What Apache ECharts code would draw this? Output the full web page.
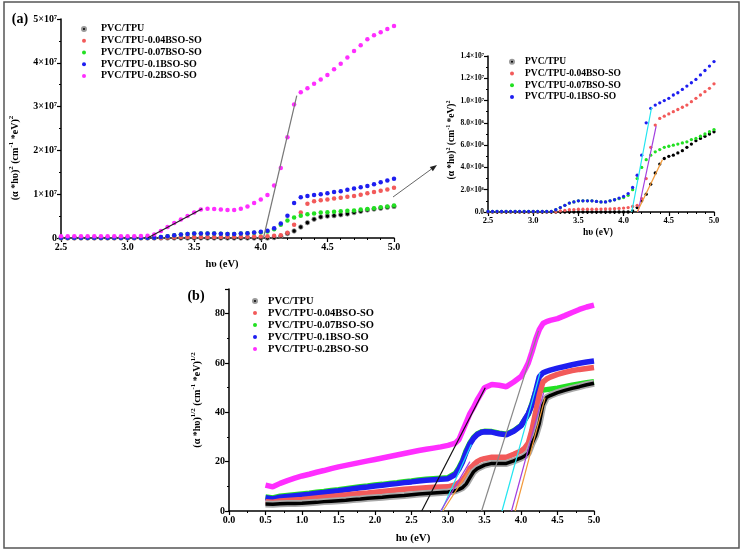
<!DOCTYPE html>
<html><head><meta charset="utf-8">
<script src="https://cdn.jsdelivr.net/npm/echarts@6/dist/echarts.min.js"></script>
<style>html,body{margin:0;padding:0;background:#fff}#c{width:743px;height:554px}</style>
</head><body><div id="c"></div>
<script>
// ---------- DATA ----------
const seriesNames = ['PVC/TPU','PVC/TPU-0.04BSO-SO','PVC/TPU-0.07BSO-SO','PVC/TPU-0.1BSO-SO','PVC/TPU-0.2BSO-SO'];
const seriesColors = ['#000000','#f25a5a','#22e022','#1e1ef0','#ff2eff'];

// panel (a): (alpha*hv)^2 in units of 1e7
const aX = [2.5,2.55,2.6,2.65,2.7,2.75,2.8,2.85,2.9,2.95,3.0,3.05,3.1,3.15,3.2,3.25,3.3,3.35,3.4,3.45,3.5,3.55,3.6,3.65,3.7,3.75,3.8,3.85,3.9,3.95,4.0,4.05,4.1,4.15,4.2,4.25,4.3,4.35,4.4,4.45,4.5,4.55,4.6,4.65,4.7,4.75,4.8,4.85,4.9,4.95,5.0];
const aBlack = [0,0,0,0,0,0,0,0,0,0,0,0,0,0,0,0,0,0,0,0,0,0,0,0,0,0,0,0,0,0,0,0,0.01,0.04,0.1,0.16,0.25,0.35,0.43,0.48,0.5,0.51,0.53,0.55,0.58,0.61,0.64,0.66,0.68,0.7,0.72];
const aRed = [0.002,0.002,0.002,0.002,0.002,0.002,0.002,0.002,0.002,0.002,0.002,0.002,0.002,0.002,0.002,0.002,0.01,0.015,0.02,0.022,0.025,0.025,0.025,0.025,0.025,0.026,0.027,0.028,0.03,0.032,0.035,0.04,0.05,0.06,0.12,0.3,0.58,0.78,0.84,0.86,0.88,0.9,0.92,0.94,0.96,0.99,1.02,1.05,1.08,1.11,1.15];
const aGreen = [0.005,0.005,0.005,0.005,0.005,0.005,0.005,0.005,0.005,0.005,0.005,0.005,0.005,0.005,0.005,0.02,0.04,0.06,0.08,0.09,0.1,0.1,0.1,0.1,0.095,0.09,0.09,0.1,0.11,0.12,0.13,0.15,0.2,0.3,0.4,0.47,0.51,0.54,0.56,0.58,0.59,0.6,0.61,0.62,0.63,0.65,0.66,0.68,0.7,0.72,0.74];
const aBlue = [0.005,0.005,0.005,0.005,0.005,0.005,0.005,0.005,0.005,0.005,0.005,0.005,0.005,0.005,0.005,0.02,0.04,0.06,0.08,0.09,0.1,0.1,0.1,0.1,0.095,0.09,0.09,0.1,0.11,0.125,0.14,0.165,0.22,0.33,0.51,0.8,0.93,0.96,0.98,1.0,1.02,1.05,1.07,1.1,1.13,1.16,1.19,1.23,1.27,1.31,1.35];
const aPink = [0.04,0.04,0.04,0.04,0.04,0.04,0.04,0.04,0.04,0.04,0.04,0.04,0.045,0.05,0.08,0.16,0.25,0.34,0.42,0.5,0.58,0.65,0.67,0.66,0.65,0.64,0.64,0.67,0.72,0.8,0.88,0.98,1.2,1.6,2.3,3.05,3.33,3.42,3.52,3.62,3.72,3.85,3.98,4.12,4.27,4.4,4.54,4.63,4.7,4.77,4.84];
const aYTicks = ['0','1×10⁷','2×10⁷','3×10⁷','4×10⁷','5×10⁷'];
const insetYTicks = ['0.0','2.0×10⁶','4.0×10⁶','6.0×10⁶','8.0×10⁶','1.0×10⁷','1.2×10⁷','1.4×10⁷'];

// panel (b): (alpha*hv)^(1/2)
const bX = [0.5,0.6,0.7,0.8,0.9,1.0,1.1,1.2,1.3,1.4,1.5,1.6,1.7,1.8,1.9,2.0,2.1,2.2,2.3,2.4,2.5,2.6,2.7,2.8,2.9,3.0,3.1,3.15,3.2,3.25,3.3,3.35,3.4,3.45,3.5,3.6,3.7,3.8,3.9,4.0,4.05,4.1,4.15,4.2,4.25,4.3,4.35,4.4,4.5,4.6,4.7,4.8,4.9,5.0];
const bBlack = [2.8,2.7,2.9,3.0,3.0,3.1,3.3,3.5,3.8,4.0,4.2,4.4,4.7,4.9,5.2,5.4,5.6,5.9,6.1,6.3,6.6,6.9,7.1,7.3,7.5,7.7,8.2,8.8,9.5,11,13.5,15.9,17.2,17.9,18.6,19.3,19.3,19.3,20.3,21.5,22.3,23.5,27.4,30.5,35.5,43,46,46.8,48,48.9,49.7,50.4,51.2,51.8];
const bRed = [3.8,3.6,4.1,4.3,4.5,4.7,5.0,5.3,5.6,5.9,6.2,6.5,6.8,7.1,7.3,7.6,7.9,8.2,8.5,8.8,9.0,9.2,9.4,9.6,9.7,9.8,10.6,11.5,12.5,14.5,17.3,18.7,20,20.8,21.2,21.8,21.8,21.8,23,24.3,25.5,27.5,32.8,40,47,52.3,53.5,54.3,55.4,56.2,56.9,57.4,57.8,58.2];
const bGreen = [5.7,5.3,6.0,6.3,6.6,6.9,7.2,7.6,7.9,8.3,8.6,9.0,9.4,9.8,10.1,10.5,10.8,11.2,11.5,11.9,12.2,12.6,12.9,13.1,13.3,13.5,15.2,17.5,20.5,24.5,27.6,29.8,31.2,32,32.3,32.2,31.5,31.1,32.5,34.7,37,39.2,43.5,48,48.7,49,49.2,49.4,49.8,50.4,51,51.5,52,52.4];
const bBlue = [5.4,4.9,5.6,5.9,6.2,6.5,6.8,7.2,7.5,7.9,8.2,8.6,9.0,9.4,9.7,10.1,10.4,10.8,11.1,11.5,11.8,12.2,12.5,12.7,12.9,13.1,14.8,17,20,24,27.2,29.5,31,31.8,32.1,32,31.3,30.9,32.3,34.5,37,39.5,43,48.5,54.4,56,56.6,57.1,57.9,58.6,59.3,59.9,60.4,60.8];
const bPink = [10.5,9.8,11.2,12.3,13.3,14.2,14.9,15.7,16.4,17.2,17.9,18.5,19.1,19.7,20.3,20.9,21.5,22.1,22.7,23.3,23.9,24.5,25.0,25.5,26.0,26.6,27.5,29,32.5,36,39.5,42,45,47.5,50,51.3,51,50.4,52.3,54.5,57,60,64.5,69.5,73.5,76,76.8,77.3,78,79.2,80.5,81.7,82.7,83.5];

// tangent (fit) lines: [x, y] end points
const fitA = [ {c:'#222', d:[[3.15,0],[3.56,0.67]]}, {c:'#777', d:[[4.02,0],[4.27,3.25]]} ];
const fitInset = [ {c:'#22e5f0', d:[[4.09,0],[4.31,0.94]]}, {c:'#a23ee0', d:[[4.16,0],[4.36,0.77]]}, {c:'#f29a3a', d:[[4.15,0],[4.43,0.47]]} ];
const fitB = [
  {c:'#111', d:[[2.64,0],[3.51,50]]}, {c:'#888', d:[[3.46,0],[4.24,73]]},
  {c:'#22e5f0', d:[[2.91,0],[3.32,27]]}, {c:'#a23ee0', d:[[2.9,0],[3.3,20]]}, {c:'#f29a3a', d:[[2.93,0],[3.3,17]]},
  {c:'#22e5f0', d:[[3.74,0],[4.26,56]]}, {c:'#a23ee0', d:[[3.87,0],[4.31,48]]}, {c:'#f29a3a', d:[[3.92,0],[4.33,46]]}
];

// ---------- CHART ----------
const FONT = '"Liberation Serif","Times New Roman",serif';
const pairs = (xs, ys) => xs.map((x, i) => [x, ys[i]]);
const chart = echarts.init(document.getElementById('c'), null, {renderer: 'canvas'});

function xAxisCfg(grid, min, max, interval, minorSplit, fs) {
  return {gridIndex: grid, type: 'value', min, max, interval,
    axisLine: {lineStyle: {color: '#000', width: 1.5}},
    axisTick: {length: 4, lineStyle: {color: '#000', width: 1.2}},
    minorTick: {show: true, splitNumber: minorSplit, length: 2, lineStyle: {color: '#000', width: 1}},
    splitLine: {show: false},
    axisLabel: {color: '#000', fontFamily: FONT, fontWeight: 'bold', fontSize: fs, margin: 4, formatter: v => v.toFixed(1)}};
}
function yAxisCfg(grid, min, max, interval, minorSplit, fs, fmt) {
  return {gridIndex: grid, type: 'value', min, max, interval,
    axisLine: {show: true, lineStyle: {color: '#000', width: 1.5}},
    axisTick: {show: true, length: 4, lineStyle: {color: '#000', width: 1.2}},
    minorTick: {show: true, splitNumber: minorSplit, length: 2, lineStyle: {color: '#000', width: 1}},
    splitLine: {show: false},
    axisLabel: {color: '#000', fontFamily: FONT, fontWeight: 'bold', fontSize: fs, margin: 4, formatter: fmt}};
}

const series = [];
const aData = [aBlack, aRed, aGreen, aBlue, aPink];
aData.forEach((ys, i) => series.push({
  type: 'scatter', name: seriesNames[i], xAxisIndex: 0, yAxisIndex: 0, symbolSize: 4.5,
  itemStyle: {color: seriesColors[i], borderColor: i === 0 ? '#999' : seriesColors[i], borderWidth: i === 0 ? 0.8 : 0, opacity: 1},
  data: pairs(aX, ys), z: 2 + i}));
aData.slice(0, 4).forEach((ys, i) => series.push({
  type: 'scatter', name: seriesNames[i], xAxisIndex: 1, yAxisIndex: 1, symbolSize: 3.3,
  itemStyle: {color: seriesColors[i], opacity: 1},
  data: pairs(aX, ys), z: 2 + i}));
// panel b: draw order pink, green, blue, red, black
[[4, bPink], [2, bGreen], [3, bBlue], [1, bRed]].forEach(([i, ys], k) => series.push({
  type: 'line', name: seriesNames[i], xAxisIndex: 2, yAxisIndex: 2, showSymbol: false, symbol: 'circle',
  lineStyle: {color: seriesColors[i], width: 5.5}, itemStyle: {color: seriesColors[i]},
  data: pairs(bX, ys), z: 2 + k, silent: true}));
series.push({type: 'line', name: 'halo', xAxisIndex: 2, yAxisIndex: 2, showSymbol: false,
  lineStyle: {color: '#a8a8a8', width: 7}, data: pairs(bX, bBlack), z: 6, silent: true});
series.push({type: 'line', name: seriesNames[0], xAxisIndex: 2, yAxisIndex: 2, showSymbol: false, symbol: 'circle',
  lineStyle: {color: '#000', width: 3.5}, itemStyle: {color: '#000'}, data: pairs(bX, bBlack), z: 7, silent: true});

const addFits = (arr, xi) => arr.forEach(f => series.push({
  type: 'line', name: 'fit', xAxisIndex: xi, yAxisIndex: xi, symbol: 'none', silent: true,
  lineStyle: {color: f.c, width: 1.2}, data: f.d, z: 10}));
addFits(fitA, 0); addFits(fitInset, 1); addFits(fitB, 2);

const legendCfg = (left, top, names, fs, lh, pad) => ({
  left, top, orient: 'vertical', data: names, icon: 'circle', itemWidth: 4, itemHeight: 4, itemGap: 0,
  selectedMode: false,
  textStyle: {fontFamily: FONT, fontWeight: 'bold', fontSize: fs, color: '#000', lineHeight: lh, padding: [0, 0, 0, pad]}
});

// superscript rich text helpers
const richT = (fs) => ({t: {fontFamily: FONT, fontWeight: 'bold', fontSize: fs, fill: '#000', lineHeight: fs + 4},
  s: {fontFamily: FONT, fontWeight: 'bold', fontSize: Math.round(fs * 0.68), fill: '#000', verticalAlign: 'top', lineHeight: fs + 4}});
const yTitleSq = '{t|(α *hυ)}{s|2}{t| (cm}{s|-1}{t| *eV)}{s|2}';
const yTitleRt = '{t|(α *hυ)}{s|1/2}{t| (cm}{s|-1}{t| *eV)}{s|1/2}';

// arrow geometry
const arrFrom = [393, 197], arrTo = [437, 165];
const dx = arrTo[0] - arrFrom[0], dy = arrTo[1] - arrFrom[1], L = Math.hypot(dx, dy);
const ux = dx / L, uy = dy / L, px = -uy, py = ux;
const bx = arrTo[0] - 7 * ux, by = arrTo[1] - 7 * uy;

const txt = (x, y, text, fs, rot, rich) => ({type: 'text', x, y, rotation: rot || 0, z: 50,
  style: {text, fill: '#000', font: 'bold ' + fs + 'px ' + FONT, align: 'center', verticalAlign: 'middle', rich: rich}});

chart.setOption({
  animation: false,
  backgroundColor: '#fff',
  grid: [
    {left: 61, top: 19, width: 333, height: 219},
    {left: 488, top: 56, width: 226, height: 156},
    {left: 229, top: 289, width: 365, height: 222}
  ],
  xAxis: [
    xAxisCfg(0, 2.5, 5, 0.5, 5, 10),
    xAxisCfg(1, 2.5, 5, 0.5, 5, 8.5),
    xAxisCfg(2, 0, 5, 0.5, 2, 10)
  ],
  yAxis: [
    yAxisCfg(0, 0, 5, 1, 2, 10, v => aYTicks[Math.round(v)]),
    yAxisCfg(1, 0, 1.4, 0.2, 2, 7.5, v => insetYTicks[Math.round(v / 0.2)]),
    yAxisCfg(2, 0, 90, 20, 2, 10, v => (v % 20 === 0 ? String(v) : ''))
  ],
  legend: [
    legendCfg(76, 18, seriesNames, 10, 11.75, 10),
    legendCfg(504, 51, seriesNames.slice(0, 4), 9.5, 11.7, 6),
    legendCfg(247, 290, seriesNames, 10.5, 12, 6)
  ],
  series,
  graphic: [
    {type: 'rect', shape: {x: 4, y: 2, width: 735, height: 546}, style: {fill: 'none', stroke: '#555', lineWidth: 1.5}, z: 1},
    txt(20, 19, '(a)', 14),
    txt(196, 296, '(b)', 14),
    txt(222, 264, 'hυ (eV)', 10.5),
    txt(598, 233, 'hυ (eV)', 9.5),
    txt(413, 538, 'hυ (eV)', 11),
    {type: 'text', x: 15, y: 158, rotation: Math.PI / 2, z: 50, style: {text: yTitleSq, align: 'center', verticalAlign: 'middle', rich: richT(10)}},
    {type: 'text', x: 452, y: 140, rotation: Math.PI / 2, z: 50, style: {text: yTitleSq, align: 'center', verticalAlign: 'middle', rich: richT(9.5)}},
    {type: 'text', x: 197, y: 400, rotation: Math.PI / 2, z: 50, style: {text: yTitleRt, align: 'center', verticalAlign: 'middle', rich: richT(10)}},
    {type: 'line', shape: {x1: arrFrom[0], y1: arrFrom[1], x2: bx, y2: by}, style: {stroke: '#666', lineWidth: 1}, z: 50},
    {type: 'polygon', shape: {points: [arrTo, [bx + 2.6 * px, by + 2.6 * py], [bx - 2.6 * px, by - 2.6 * py]]}, style: {fill: '#222'}, z: 50}
  ]
});
</script></body></html>
